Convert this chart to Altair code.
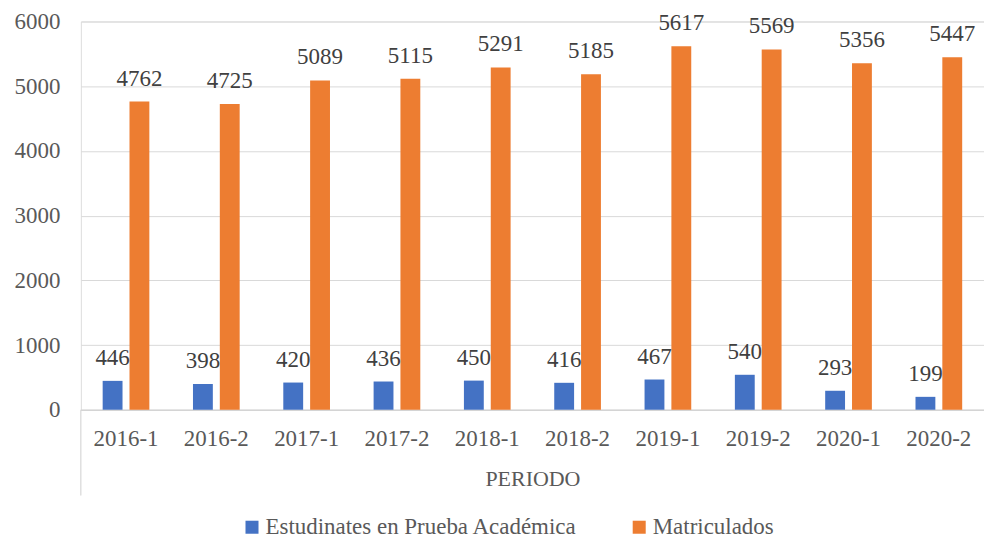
import altair as alt
import pandas as pd

periods = ["2016-1", "2016-2", "2017-1", "2017-2", "2018-1", "2018-2", "2019-1", "2019-2", "2020-1", "2020-2"]
prueba = [446, 398, 420, 436, 450, 416, 467, 540, 293, 199]
matriculados = [4762, 4725, 5089, 5115, 5291, 5185, 5617, 5569, 5356, 5447]
series = ["Estudinates en Prueba Académica", "Matriculados"]
colors = ["#4472C4", "#ED7D31"]
y_ticks = [0, 1000, 2000, 3000, 4000, 5000, 6000]

rows = []
for p, a, b in zip(periods, prueba, matriculados):
    rows.append({"periodo": p, "serie": series[0], "valor": a})
    rows.append({"periodo": p, "serie": series[1], "valor": b})
df = pd.DataFrame(rows)

FONT = "Liberation Serif, Times New Roman, serif"
FS = 23
W, H = 905, 389

x = alt.X("periodo:N", sort=periods, title="PERIODO",
          scale=alt.Scale(paddingInner=0.483, paddingOuter=0.2415),
          axis=alt.Axis(labelAngle=0, ticks=False, domainColor="#d0d0d0", domainWidth=1,
                        labelFont=FONT, labelFontSize=FS, labelColor="#595959", labelPadding=18,
                        titleFont=FONT, titleFontSize=FS - 1, titleColor="#595959",
                        titleFontWeight="normal", titlePadding=18))
xo = alt.XOffset("serie:N", sort=series, scale=alt.Scale(paddingInner=0.26, paddingOuter=0))
y = alt.Y("valor:Q", title=None,
          scale=alt.Scale(domain=[0, 6000], nice=False),
          axis=alt.Axis(values=y_ticks, domain=False, ticks=False, gridColor="#d9d9d9",
                        gridWidth=1, labelFont=FONT, labelFontSize=FS, labelColor="#595959",
                        labelPadding=21, format="d"))
color = alt.Color("serie:N", sort=series, title=None,
                  scale=alt.Scale(domain=series, range=colors),
                  legend=alt.Legend(orient="none", legendX=160, legendY=495, direction="horizontal",
                                    symbolType="square", symbolSize=170, symbolStrokeWidth=0,
                                    labelFont=FONT, labelFontSize=FS, labelColor="#595959",
                                    labelOffset=2, columnPadding=50, labelLimit=500))

base = alt.Chart(df)
bars = base.mark_bar().encode(x=x, xOffset=xo, y=y, color=color)
labels = base.mark_text(font=FONT, fontSize=FS, color="#404040", baseline="middle", dy=-23).encode(
    x=alt.X("periodo:N", sort=periods), xOffset=alt.XOffset("serie:N", sort=series),
    y=alt.Y("valor:Q"), text=alt.Text("valor:Q", format="d"))
vline = alt.Chart(alt.Data(values=[{}])).mark_rule(color="#d0d0d0", strokeWidth=1).encode(
    x=alt.value(0), y=alt.value(H), y2=alt.value(H + 86))

chart = alt.layer(bars, labels, vline).properties(
    width=W, height=H,
    padding={"left": 73, "top": 13, "right": 0, "bottom": 130},
    autosize=alt.AutoSizeParams(type="none"),
).configure_view(stroke=None).configure(background="white")

chart.save("out.html", embed_options={"renderer": "svg", "actions": False})
